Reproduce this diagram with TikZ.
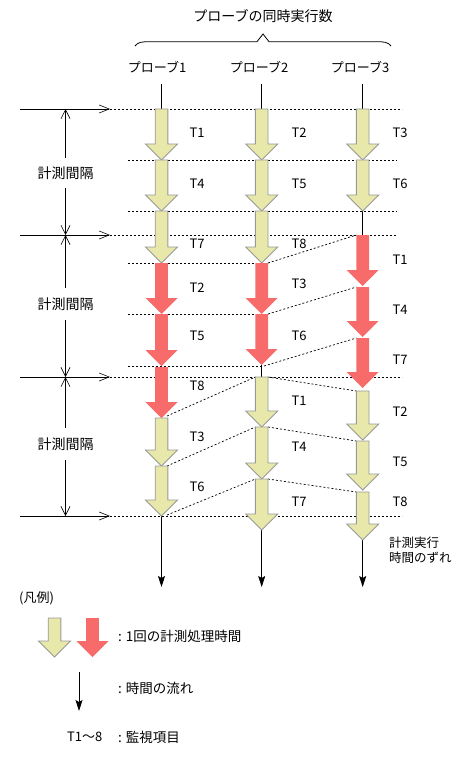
\documentclass[tikz,border=0pt]{standalone}
\usepackage{fontspec}
\setmainfont{Noto Sans CJK JP}
\usetikzlibrary{arrows.meta}
\definecolor{ylw}{HTML}{E8E8AA}
\definecolor{rd}{HTML}{F76B6B}
\definecolor{outl}{HTML}{999999}
\newcommand\blkarrow[5]{%
  \path[#5] ({#2-6.3},#3) -- ({#2+6.3},#3) -- ({#2+6.3},{#4-16}) -- ({#2+16},{#4-16}) -- (#2,#4) -- ({#2-16},{#4-16}) -- ({#2-6.3},{#4-16}) -- cycle;
  \coordinate (#1-tl) at ({#2-6.3},#3);
  \coordinate (#1-tr) at ({#2+6.3},#3);
  \coordinate (#1-tip) at (#2,#4);
}
\tikzset{
  yarr/.style={fill=ylw,draw=outl,line width=0.9pt},
  rarr/.style={fill=rd},
  dsh/.style={line width=0.7pt,dash pattern=on 2pt off 2pt},
  tlab/.style={font=\fontsize{13}{15}\selectfont,inner sep=0pt},
  jtxt/.style={font=\fontsize{13}{16}\selectfont,inner sep=0pt},
  barb/.style={-{Straight Barb[length=9pt,width=9pt,line width=0.6pt]}},
  flow/.style={-{Stealth[length=11pt,width=7pt,inset=2pt]},line width=0.8pt},
  thin/.style={line width=0.8pt}
}
\begin{document}
\begin{tikzpicture}[x=1pt,y=-1pt]
\useasboundingbox (0,0) rectangle (471,762);
% header
\node[jtxt,font=\fontsize{14}{16}\selectfont] (title) at (263,16) {プローブの同時実行数};
\draw[thin] (135,46) .. controls (138,42) and (142,41.7) .. (150,41.7) -- (257,41.7) -- (263,34) -- (269,41.7) -- (376,41.7) .. controls (384,41.7) and (388,42) .. (391,46);
\node[jtxt] (p1) at (157,67) {プローブ1};
\node[jtxt] (p2) at (259,67) {プローブ2};
\node[jtxt] (p3) at (360,67) {プローブ3};
% coordinates
\coordinate (c1) at (161.5,84);
\coordinate (c2) at (261.7,84);
\coordinate (c3) at (362.7,84);
% measurement arrows and dashed lines
\foreach \i/\y/\r in {1/109/402,2/235/397,3/377/402,4/516/402}{
  \coordinate (ma\i) at (20,\y);
  \coordinate (mb\i) at (110,\y);
  \coordinate (mr\i) at (\r,\y);
  \draw[thin,-{Straight Barb[length=10pt,width=8pt,line width=0.6pt]}] (ma\i) -- (mb\i);
  \draw[dsh] (mb\i) -- (mr\i);
}
\foreach \i/\y/\r in {a/160/397,b/211/397,c/263/268,d/314/268,e/366/262}{
  \coordinate (hl\i) at (128,\y);
  \coordinate (hr\i) at (\r,\y);
  \draw[dsh] (hl\i) -- (hr\i);
}
% interval labels
\coordinate (v1) at (65.5,109);
\coordinate (v2) at (65.5,235);
\coordinate (v3) at (65.5,377);
\coordinate (v4) at (65.5,516);
\node[jtxt,font=\fontsize{14}{16}\selectfont,minimum height=30pt] (iv1) at (65.5,173) {計測間隔};
\node[jtxt,font=\fontsize{14}{16}\selectfont,minimum height=32pt] (iv2) at (65.5,304) {計測間隔};
\node[jtxt,font=\fontsize{14}{16}\selectfont,minimum height=32pt] (iv3) at (65.5,444) {計測間隔};
\draw[thin,barb] (iv1.north) -- (v1);
\draw[thin,barb] (iv1.south) -- (v2);
\draw[thin,barb] (iv2.north) -- (v2);
\draw[thin,barb] (iv2.south) -- (v3);
\draw[thin,barb] (iv3.north) -- (v3);
\draw[thin,barb] (iv3.south) -- (v4);
% vertical lines
\draw[thin] (c1) -- (161.5,109);
\draw[thin] (c2) -- (261.7,109);
\draw[thin] (c3) -- (362.7,109);
\coordinate (c3a) at (362.7,211);
\coordinate (c3b) at (362.7,235);
\draw[thin] (c3a) -- (c3b);
\coordinate (c2a) at (261.7,365);
\coordinate (c2b) at (261.7,377);
\draw[thin] (c2a) -- (c2b);
\coordinate (e1) at (161.5,516);
\coordinate (e2) at (261.7,530);
\coordinate (e3) at (362.7,540);
\coordinate (f1) at (161.5,587);
\coordinate (f2) at (261.7,587);
\coordinate (f3) at (362.7,587);
\draw[flow] (e1) -- (f1);
\draw[flow] (e2) -- (f2);
\draw[flow] (e3) -- (f3);
% slanted dashed connectors (coordinates of arrow corners)
\coordinate (s1a) at (268,263); \coordinate (s1b) at (356.4,235);
\coordinate (s2a) at (268,314); \coordinate (s2b) at (356.4,287);
\coordinate (s3a) at (264,366); \coordinate (s3b) at (356.4,338);
\coordinate (s4a) at (167,416); \coordinate (s4b) at (255.4,377);
\coordinate (s5a) at (268,377); \coordinate (s5b) at (356.4,391);
\coordinate (s6a) at (167,466); \coordinate (s6b) at (255.4,427);
\coordinate (s7a) at (268,427); \coordinate (s7b) at (356.4,441);
\coordinate (s8a) at (167,515); \coordinate (s8b) at (255.4,479);
\coordinate (s9a) at (268,479); \coordinate (s9b) at (356.4,492);
\foreach \i in {1,...,9}{\draw[dsh] (s\i a) -- (s\i b);}
% column 1
\blkarrow{a1}{161.5}{109}{160}{yarr}
\blkarrow{a4}{161.5}{160}{211}{yarr}
\blkarrow{a7}{161.5}{211}{263}{yarr}
\blkarrow{a2}{161.5}{263}{314}{rarr}
\blkarrow{a5}{161.5}{314}{366}{rarr}
\blkarrow{a8}{161.5}{367}{418}{rarr}
\blkarrow{a3}{161.5}{418}{466}{yarr}
\blkarrow{a6}{161.5}{466}{516}{yarr}
% column 2
\blkarrow{b2}{261.7}{109}{160}{yarr}
\blkarrow{b5}{261.7}{160}{211}{yarr}
\blkarrow{b8}{261.7}{211}{263}{yarr}
\blkarrow{b3}{261.7}{263}{314}{rarr}
\blkarrow{b6}{261.7}{314}{365}{rarr}
\blkarrow{b1}{261.7}{377}{427}{yarr}
\blkarrow{b4}{261.7}{427}{479}{yarr}
\blkarrow{b7}{261.7}{479}{530}{yarr}
% column 3
\blkarrow{d3}{362.7}{109}{160}{yarr}
\blkarrow{d6}{362.7}{160}{211}{yarr}
\blkarrow{d1}{362.7}{235}{286}{rarr}
\blkarrow{d4}{362.7}{287}{337}{rarr}
\blkarrow{d7}{362.7}{338}{388}{rarr}
\blkarrow{d2}{362.7}{391}{440}{yarr}
\blkarrow{d5}{362.7}{441}{490}{yarr}
\blkarrow{d8}{362.7}{492}{540}{yarr}
% T labels
\foreach \n/\x/\y in {1/197/133,4/197/184,7/197/244,2/197/288,5/197/336,8/197/386,3/197/437,6/197/487}{
  \node[tlab] (la\n) at (\x,\y) {T\n};}
\foreach \n/\x/\y in {2/299/133,5/299/184,8/299/244,3/299/284,6/299/336,1/299/401,4/299/447,7/299/502}{
  \node[tlab] (lb\n) at (\x,\y) {T\n};}
\foreach \n/\x/\y in {3/400/133,6/400/184,1/400/260,4/400/310,7/400/360,2/400/412,5/400/462,8/400/502}{
  \node[tlab] (ld\n) at (\x,\y) {T\n};}
% shift note
\node[jtxt,anchor=west,align=left,font=\fontsize{12.5}{15.5}\selectfont] (note) at (389,550) {計測実行\\時間のずれ};
% legend
\node[jtxt,anchor=west] (leg) at (19,598) {(凡例)};
\blkarrow{ly}{54.5}{618}{657}{yarr}
\blkarrow{lr}{92.5}{618}{657}{rarr}
\node[jtxt,anchor=west,font=\fontsize{13.5}{16}\selectfont] (lt1) at (118,636) {: 1回の計測処理時間};
\coordinate (fa) at (79,672);
\coordinate (fb) at (79,711);
\draw[flow] (fa) -- (fb);
\node[jtxt,anchor=west,font=\fontsize{13.5}{16}\selectfont] (lt2) at (118,688) {: 時間の流れ};
\node[jtxt,anchor=west] (lt3a) at (67,737) {T1〜8};
\node[jtxt,anchor=west,font=\fontsize{13.5}{16}\selectfont] (lt3) at (118,737) {: 監視項目};
\end{tikzpicture}
\end{document}
